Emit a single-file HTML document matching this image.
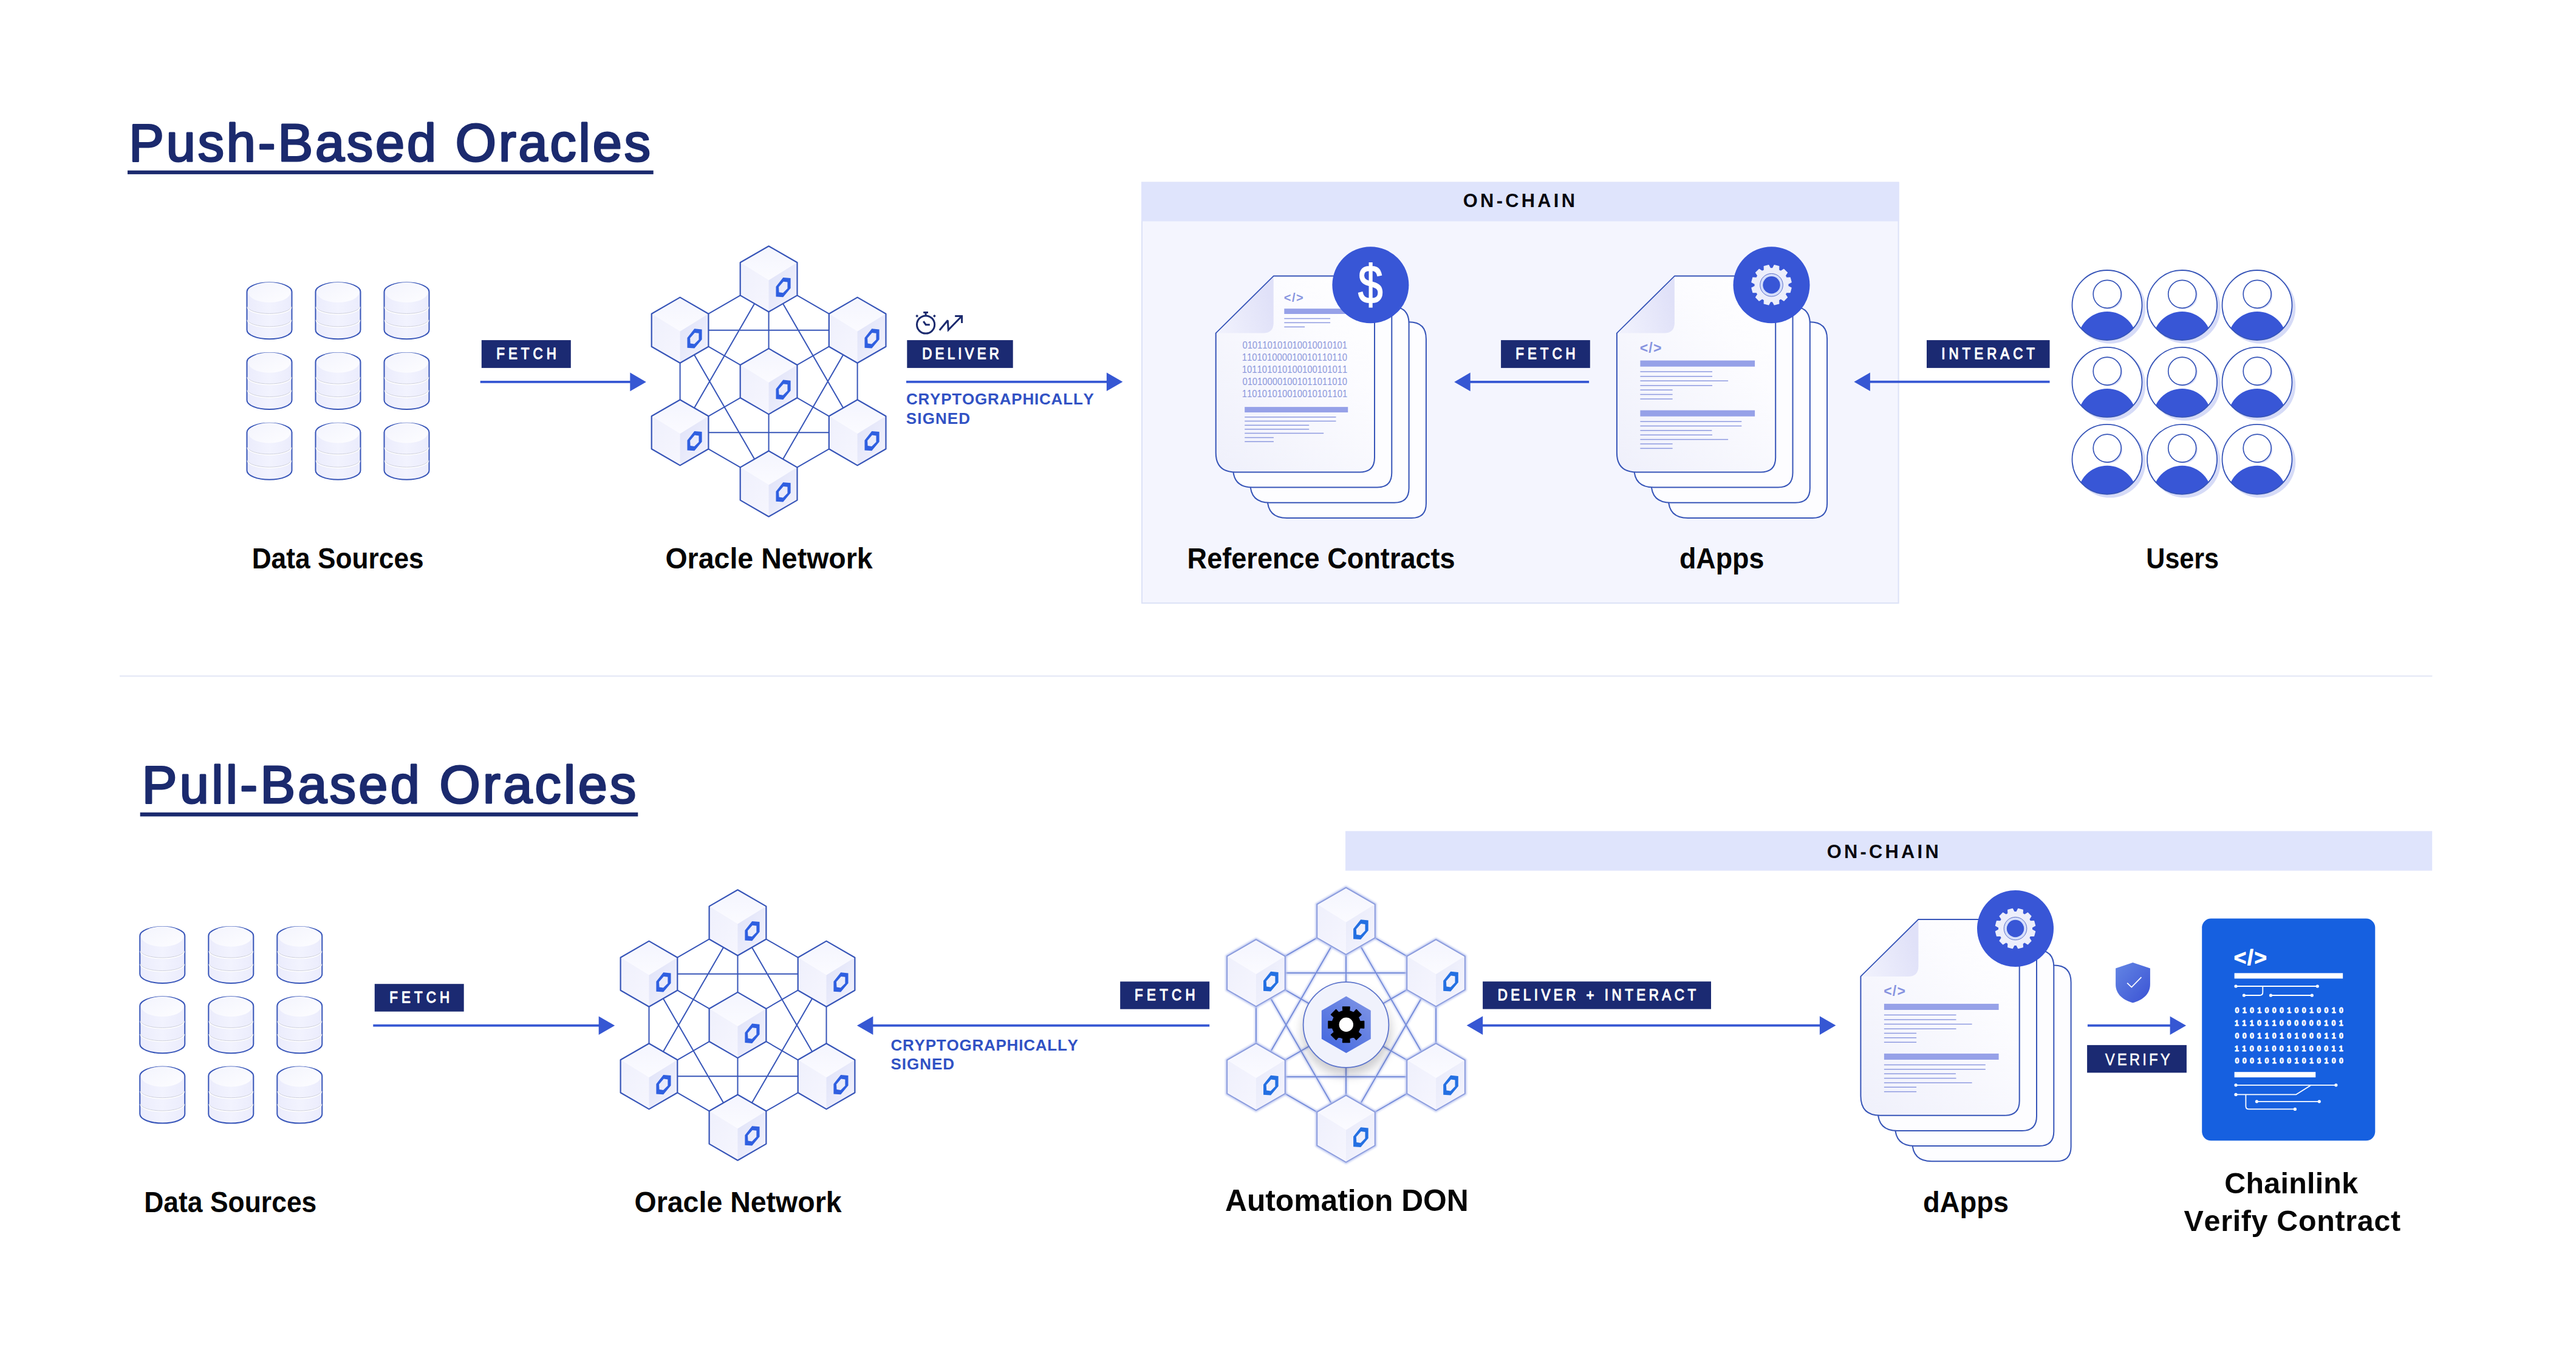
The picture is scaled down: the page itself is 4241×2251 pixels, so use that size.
<!DOCTYPE html>
<html lang="en">
<head>
<meta charset="utf-8">
<title>Push-Based vs Pull-Based Oracles</title>
<style>
html,body{margin:0;padding:0;background:#ffffff;}
body{width:4241px;height:2251px;overflow:hidden;font-family:'Liberation Sans', sans-serif;}
svg{display:block;}
text{white-space:pre;font-kerning:none;}
</style>
</head>
<body>
<svg width="4241" height="2251" viewBox="0 0 4241 2251">
<defs>

<linearGradient id="gCylBody" x1="0" y1="0" x2="1" y2="0">
  <stop offset="0" stop-color="#ebecfc"/><stop offset="0.5" stop-color="#f2f3fe"/><stop offset="1" stop-color="#ebecfc"/>
</linearGradient>
<linearGradient id="gCylTop" x1="0" y1="0" x2="1" y2="1">
  <stop offset="0" stop-color="#f3f4fd"/><stop offset="1" stop-color="#fdfdff"/>
</linearGradient>
<linearGradient id="gHexTop" x1="0" y1="0" x2="0" y2="1">
  <stop offset="0" stop-color="#f4f5fe"/><stop offset="1" stop-color="#fbfbff"/>
</linearGradient>
<linearGradient id="gHexLeft" x1="0" y1="0" x2="1" y2="1">
  <stop offset="0" stop-color="#eff0fc"/><stop offset="1" stop-color="#f6f6fe"/>
</linearGradient>
<linearGradient id="gHexRightL" x1="0" y1="0" x2="1" y2="1">
  <stop offset="0" stop-color="#e8eafa"/><stop offset="1" stop-color="#f5f5fd"/>
</linearGradient>
<linearGradient id="gHexRight" x1="0" y1="0" x2="1" y2="1">
  <stop offset="0" stop-color="#dfe2f8"/><stop offset="1" stop-color="#f3f3fd"/>
</linearGradient>
<linearGradient id="gDoc" x1="0" y1="1" x2="1" y2="0">
  <stop offset="0" stop-color="#eff0fb"/><stop offset="0.7" stop-color="#fcfcff"/><stop offset="1" stop-color="#ffffff"/>
</linearGradient>
<linearGradient id="gFold" x1="1" y1="0.6" x2="0" y2="0.9">
  <stop offset="0" stop-color="#e0e1f8"/><stop offset="1" stop-color="#f1f2fd"/>
</linearGradient>
<linearGradient id="gShield" x1="0" y1="0" x2="1" y2="1">
  <stop offset="0" stop-color="#6486e4"/><stop offset="1" stop-color="#3a52d4"/>
</linearGradient>
<linearGradient id="gNut" x1="1" y1="0" x2="0.2" y2="1">
  <stop offset="0" stop-color="#8297e6"/><stop offset="1" stop-color="#4569df"/>
</linearGradient>
<filter id="fShadow" x="-50%" y="-50%" width="200%" height="200%">
  <feGaussianBlur stdDeviation="9"/>
</filter>
<filter id="fGlow" x="-20%" y="-20%" width="140%" height="140%">
  <feGaussianBlur stdDeviation="1.6"/>
</filter>
<clipPath id="uc3469_502"><circle cx="3469.0" cy="502.5" r="57.5"/></clipPath><clipPath id="uc3592_502"><circle cx="3592.5" cy="502.5" r="57.5"/></clipPath><clipPath id="uc3716_502"><circle cx="3716.0" cy="502.5" r="57.5"/></clipPath><clipPath id="uc3469_629"><circle cx="3469.0" cy="629.4" r="57.5"/></clipPath><clipPath id="uc3592_629"><circle cx="3592.5" cy="629.4" r="57.5"/></clipPath><clipPath id="uc3716_629"><circle cx="3716.0" cy="629.4" r="57.5"/></clipPath><clipPath id="uc3469_756"><circle cx="3469.0" cy="756.3" r="57.5"/></clipPath><clipPath id="uc3592_756"><circle cx="3592.5" cy="756.3" r="57.5"/></clipPath><clipPath id="uc3716_756"><circle cx="3716.0" cy="756.3" r="57.5"/></clipPath>
</defs>
<rect x="0" y="0" width="4241" height="2251" fill="#ffffff"/>
<text x="212.31" y="265.2" font-family="'Liberation Sans', sans-serif" font-size="86.4" font-weight="normal" fill="#1b2a6e" letter-spacing="3.897" stroke="#1b2a6e" stroke-width="3.0" stroke-linejoin="round" >Push-Based Oracles</text>
<rect x="210" y="280.7" width="865.7" height="6.2" fill="#1b2a6e"/>
<rect x="1880" y="300.5" width="1245.6" height="692.6" fill="#f4f5fe" stroke="#dce2f7" stroke-width="2"/>
<rect x="1879" y="299.8" width="1247.6" height="64.6" fill="#dfe4fc"/>
<text x="2408.84" y="340.9" font-family="'Liberation Sans', sans-serif" font-size="30.8" font-weight="bold" fill="#07070f" letter-spacing="4.308" >ON-CHAIN</text>
<path d="M406.5,480.3 A37.0,15 0 0 1 480.5,480.3 L480.5,543.3 A37.0,15 0 0 1 406.5,543.3 Z" fill="url(#gCylBody)" stroke="#3755b8" stroke-width="2.0"/>
<ellipse cx="443.5" cy="481.5" rx="34.8" ry="16.6" fill="url(#gCylTop)"/>
<path d="M407.7,505.6 A35.8,11.6 0 0 0 479.3,505.6" fill="none" stroke="#ffffff" stroke-width="2.4"/>
<path d="M407.7,504.8 A35.8,11.6 0 0 0 479.3,504.8" fill="none" stroke="#c6c8d8" stroke-width="0.9"/>
<path d="M407.7,527.0 A35.8,11.6 0 0 0 479.3,527.0" fill="none" stroke="#ffffff" stroke-width="2.4"/>
<path d="M407.7,526.2 A35.8,11.6 0 0 0 479.3,526.2" fill="none" stroke="#c6c8d8" stroke-width="0.9"/>
<path d="M519.5,480.3 A37.0,15 0 0 1 593.5,480.3 L593.5,543.3 A37.0,15 0 0 1 519.5,543.3 Z" fill="url(#gCylBody)" stroke="#3755b8" stroke-width="2.0"/>
<ellipse cx="556.5" cy="481.5" rx="34.8" ry="16.6" fill="url(#gCylTop)"/>
<path d="M520.7,505.6 A35.8,11.6 0 0 0 592.3,505.6" fill="none" stroke="#ffffff" stroke-width="2.4"/>
<path d="M520.7,504.8 A35.8,11.6 0 0 0 592.3,504.8" fill="none" stroke="#c6c8d8" stroke-width="0.9"/>
<path d="M520.7,527.0 A35.8,11.6 0 0 0 592.3,527.0" fill="none" stroke="#ffffff" stroke-width="2.4"/>
<path d="M520.7,526.2 A35.8,11.6 0 0 0 592.3,526.2" fill="none" stroke="#c6c8d8" stroke-width="0.9"/>
<path d="M632.5,480.3 A37.0,15 0 0 1 706.5,480.3 L706.5,543.3 A37.0,15 0 0 1 632.5,543.3 Z" fill="url(#gCylBody)" stroke="#3755b8" stroke-width="2.0"/>
<ellipse cx="669.5" cy="481.5" rx="34.8" ry="16.6" fill="url(#gCylTop)"/>
<path d="M633.7,505.6 A35.8,11.6 0 0 0 705.3,505.6" fill="none" stroke="#ffffff" stroke-width="2.4"/>
<path d="M633.7,504.8 A35.8,11.6 0 0 0 705.3,504.8" fill="none" stroke="#c6c8d8" stroke-width="0.9"/>
<path d="M633.7,527.0 A35.8,11.6 0 0 0 705.3,527.0" fill="none" stroke="#ffffff" stroke-width="2.4"/>
<path d="M633.7,526.2 A35.8,11.6 0 0 0 705.3,526.2" fill="none" stroke="#c6c8d8" stroke-width="0.9"/>
<path d="M406.5,596.0 A37.0,15 0 0 1 480.5,596.0 L480.5,659.0 A37.0,15 0 0 1 406.5,659.0 Z" fill="url(#gCylBody)" stroke="#3755b8" stroke-width="2.0"/>
<ellipse cx="443.5" cy="597.2" rx="34.8" ry="16.6" fill="url(#gCylTop)"/>
<path d="M407.7,621.3 A35.8,11.6 0 0 0 479.3,621.3" fill="none" stroke="#ffffff" stroke-width="2.4"/>
<path d="M407.7,620.5 A35.8,11.6 0 0 0 479.3,620.5" fill="none" stroke="#c6c8d8" stroke-width="0.9"/>
<path d="M407.7,642.7 A35.8,11.6 0 0 0 479.3,642.7" fill="none" stroke="#ffffff" stroke-width="2.4"/>
<path d="M407.7,641.9 A35.8,11.6 0 0 0 479.3,641.9" fill="none" stroke="#c6c8d8" stroke-width="0.9"/>
<path d="M519.5,596.0 A37.0,15 0 0 1 593.5,596.0 L593.5,659.0 A37.0,15 0 0 1 519.5,659.0 Z" fill="url(#gCylBody)" stroke="#3755b8" stroke-width="2.0"/>
<ellipse cx="556.5" cy="597.2" rx="34.8" ry="16.6" fill="url(#gCylTop)"/>
<path d="M520.7,621.3 A35.8,11.6 0 0 0 592.3,621.3" fill="none" stroke="#ffffff" stroke-width="2.4"/>
<path d="M520.7,620.5 A35.8,11.6 0 0 0 592.3,620.5" fill="none" stroke="#c6c8d8" stroke-width="0.9"/>
<path d="M520.7,642.7 A35.8,11.6 0 0 0 592.3,642.7" fill="none" stroke="#ffffff" stroke-width="2.4"/>
<path d="M520.7,641.9 A35.8,11.6 0 0 0 592.3,641.9" fill="none" stroke="#c6c8d8" stroke-width="0.9"/>
<path d="M632.5,596.0 A37.0,15 0 0 1 706.5,596.0 L706.5,659.0 A37.0,15 0 0 1 632.5,659.0 Z" fill="url(#gCylBody)" stroke="#3755b8" stroke-width="2.0"/>
<ellipse cx="669.5" cy="597.2" rx="34.8" ry="16.6" fill="url(#gCylTop)"/>
<path d="M633.7,621.3 A35.8,11.6 0 0 0 705.3,621.3" fill="none" stroke="#ffffff" stroke-width="2.4"/>
<path d="M633.7,620.5 A35.8,11.6 0 0 0 705.3,620.5" fill="none" stroke="#c6c8d8" stroke-width="0.9"/>
<path d="M633.7,642.7 A35.8,11.6 0 0 0 705.3,642.7" fill="none" stroke="#ffffff" stroke-width="2.4"/>
<path d="M633.7,641.9 A35.8,11.6 0 0 0 705.3,641.9" fill="none" stroke="#c6c8d8" stroke-width="0.9"/>
<path d="M406.5,711.7 A37.0,15 0 0 1 480.5,711.7 L480.5,774.7 A37.0,15 0 0 1 406.5,774.7 Z" fill="url(#gCylBody)" stroke="#3755b8" stroke-width="2.0"/>
<ellipse cx="443.5" cy="712.9" rx="34.8" ry="16.6" fill="url(#gCylTop)"/>
<path d="M407.7,737.0 A35.8,11.6 0 0 0 479.3,737.0" fill="none" stroke="#ffffff" stroke-width="2.4"/>
<path d="M407.7,736.2 A35.8,11.6 0 0 0 479.3,736.2" fill="none" stroke="#c6c8d8" stroke-width="0.9"/>
<path d="M407.7,758.4 A35.8,11.6 0 0 0 479.3,758.4" fill="none" stroke="#ffffff" stroke-width="2.4"/>
<path d="M407.7,757.6 A35.8,11.6 0 0 0 479.3,757.6" fill="none" stroke="#c6c8d8" stroke-width="0.9"/>
<path d="M519.5,711.7 A37.0,15 0 0 1 593.5,711.7 L593.5,774.7 A37.0,15 0 0 1 519.5,774.7 Z" fill="url(#gCylBody)" stroke="#3755b8" stroke-width="2.0"/>
<ellipse cx="556.5" cy="712.9" rx="34.8" ry="16.6" fill="url(#gCylTop)"/>
<path d="M520.7,737.0 A35.8,11.6 0 0 0 592.3,737.0" fill="none" stroke="#ffffff" stroke-width="2.4"/>
<path d="M520.7,736.2 A35.8,11.6 0 0 0 592.3,736.2" fill="none" stroke="#c6c8d8" stroke-width="0.9"/>
<path d="M520.7,758.4 A35.8,11.6 0 0 0 592.3,758.4" fill="none" stroke="#ffffff" stroke-width="2.4"/>
<path d="M520.7,757.6 A35.8,11.6 0 0 0 592.3,757.6" fill="none" stroke="#c6c8d8" stroke-width="0.9"/>
<path d="M632.5,711.7 A37.0,15 0 0 1 706.5,711.7 L706.5,774.7 A37.0,15 0 0 1 632.5,774.7 Z" fill="url(#gCylBody)" stroke="#3755b8" stroke-width="2.0"/>
<ellipse cx="669.5" cy="712.9" rx="34.8" ry="16.6" fill="url(#gCylTop)"/>
<path d="M633.7,737.0 A35.8,11.6 0 0 0 705.3,737.0" fill="none" stroke="#ffffff" stroke-width="2.4"/>
<path d="M633.7,736.2 A35.8,11.6 0 0 0 705.3,736.2" fill="none" stroke="#c6c8d8" stroke-width="0.9"/>
<path d="M633.7,758.4 A35.8,11.6 0 0 0 705.3,758.4" fill="none" stroke="#ffffff" stroke-width="2.4"/>
<path d="M633.7,757.6 A35.8,11.6 0 0 0 705.3,757.6" fill="none" stroke="#c6c8d8" stroke-width="0.9"/>
<rect x="792.8" y="560.1" width="147.0" height="45.8" fill="#1b2a72"/>
<text transform="translate(817.19,590.9) scale(0.8600,1)" font-family="'Liberation Sans', sans-serif" font-size="26" font-weight="normal" fill="#ffffff" letter-spacing="7.029" stroke="#ffffff" stroke-width="1.25" stroke-linejoin="round" >FETCH</text>
<polygon points="1063.8,628.9 1037.3,613.6 1037.3,644.2" fill="#3657d3"/>
<rect x="790.7" y="627.0" width="247.6" height="3.8" fill="#3657d3"/>
<path d="M1265.6,459.4 L1411.6,543.7 M1265.6,459.4 L1411.6,712.3 M1265.6,459.4 L1265.6,796.6 M1265.6,459.4 L1119.6,712.3 M1265.6,459.4 L1119.6,543.7 M1411.6,543.7 L1411.6,712.3 M1411.6,543.7 L1265.6,796.6 M1411.6,543.7 L1119.6,712.3 M1411.6,543.7 L1119.6,543.7 M1411.6,712.3 L1265.6,796.6 M1411.6,712.3 L1119.6,712.3 M1411.6,712.3 L1119.6,543.7 M1265.6,796.6 L1119.6,712.3 M1265.6,796.6 L1119.6,543.7 M1119.6,712.3 L1119.6,543.7" fill="none" stroke="#3755b8" stroke-width="2.0"/>
<polygon points="1265.6,405.3 1312.5,432.3 1312.5,486.4 1265.6,513.5 1218.7,486.4 1218.7,432.3" fill="#f2f3fd"/>
<polygon points="1265.6,405.3 1312.5,432.3 1265.6,461.4 1218.7,432.3" fill="url(#gHexTop)"/>
<polygon points="1218.7,432.3 1265.6,461.4 1265.6,513.5 1218.7,486.4" fill="url(#gHexLeft)"/>
<polygon points="1265.6,461.4 1312.5,432.3 1312.5,486.4 1265.6,513.5" fill="url(#gHexRight)"/>
<polygon points="1265.6,405.3 1312.5,432.3 1312.5,486.4 1265.6,513.5 1218.7,486.4 1218.7,432.3" fill="none" stroke="#3755b8" stroke-width="2.2" stroke-linejoin="round"/>
<path d="M1289.3,457.0 L1301.6,458.1 L1301.6,474.6 L1289.3,489.3 L1277.5,488.5 L1277.5,472.0 Z M1289.8,463.7 L1296.5,464.5 L1296.5,474.9 L1289.1,482.2 L1282.6,481.2 L1282.1,472.5 Z" fill="#2f5fe0" fill-rule="evenodd"/>
<polygon points="1411.6,489.6 1458.5,516.7 1458.5,570.8 1411.6,597.8 1364.8,570.8 1364.8,516.7" fill="#f2f3fd"/>
<polygon points="1411.6,489.6 1458.5,516.7 1411.6,545.7 1364.8,516.7" fill="url(#gHexTop)"/>
<polygon points="1364.8,516.7 1411.6,545.7 1411.6,597.8 1364.8,570.8" fill="url(#gHexLeft)"/>
<polygon points="1411.6,545.7 1458.5,516.7 1458.5,570.8 1411.6,597.8" fill="url(#gHexRight)"/>
<polygon points="1411.6,489.6 1458.5,516.7 1458.5,570.8 1411.6,597.8 1364.8,570.8 1364.8,516.7" fill="none" stroke="#3755b8" stroke-width="2.2" stroke-linejoin="round"/>
<path d="M1435.3,541.3 L1447.6,542.4 L1447.6,558.9 L1435.3,573.6 L1423.5,572.8 L1423.5,556.3 Z M1435.8,548.0 L1442.5,548.8 L1442.5,559.2 L1435.1,566.5 L1428.6,565.5 L1428.1,556.8 Z" fill="#2f5fe0" fill-rule="evenodd"/>
<polygon points="1411.6,658.2 1458.5,685.2 1458.5,739.3 1411.6,766.4 1364.8,739.3 1364.8,685.2" fill="#f2f3fd"/>
<polygon points="1411.6,658.2 1458.5,685.2 1411.6,714.3 1364.8,685.2" fill="url(#gHexTop)"/>
<polygon points="1364.8,685.2 1411.6,714.3 1411.6,766.4 1364.8,739.3" fill="url(#gHexLeft)"/>
<polygon points="1411.6,714.3 1458.5,685.2 1458.5,739.3 1411.6,766.4" fill="url(#gHexRight)"/>
<polygon points="1411.6,658.2 1458.5,685.2 1458.5,739.3 1411.6,766.4 1364.8,739.3 1364.8,685.2" fill="none" stroke="#3755b8" stroke-width="2.2" stroke-linejoin="round"/>
<path d="M1435.3,709.9 L1447.6,711.0 L1447.6,727.5 L1435.3,742.2 L1423.5,741.4 L1423.5,724.9 Z M1435.8,716.6 L1442.5,717.4 L1442.5,727.8 L1435.1,735.1 L1428.6,734.1 L1428.1,725.4 Z" fill="#2f5fe0" fill-rule="evenodd"/>
<polygon points="1265.6,742.5 1312.5,769.6 1312.5,823.6 1265.6,850.7 1218.7,823.6 1218.7,769.6" fill="#f2f3fd"/>
<polygon points="1265.6,742.5 1312.5,769.6 1265.6,798.6 1218.7,769.6" fill="url(#gHexTop)"/>
<polygon points="1218.7,769.6 1265.6,798.6 1265.6,850.7 1218.7,823.6" fill="url(#gHexLeft)"/>
<polygon points="1265.6,798.6 1312.5,769.6 1312.5,823.6 1265.6,850.7" fill="url(#gHexRight)"/>
<polygon points="1265.6,742.5 1312.5,769.6 1312.5,823.6 1265.6,850.7 1218.7,823.6 1218.7,769.6" fill="none" stroke="#3755b8" stroke-width="2.2" stroke-linejoin="round"/>
<path d="M1289.3,794.2 L1301.6,795.3 L1301.6,811.8 L1289.3,826.5 L1277.5,825.7 L1277.5,809.2 Z M1289.8,800.9 L1296.5,801.7 L1296.5,812.1 L1289.1,819.4 L1282.6,818.4 L1282.1,809.7 Z" fill="#2f5fe0" fill-rule="evenodd"/>
<polygon points="1119.6,658.2 1166.4,685.2 1166.4,739.3 1119.6,766.4 1072.7,739.3 1072.7,685.2" fill="#f2f3fd"/>
<polygon points="1119.6,658.2 1166.4,685.2 1119.6,714.3 1072.7,685.2" fill="url(#gHexTop)"/>
<polygon points="1072.7,685.2 1119.6,714.3 1119.6,766.4 1072.7,739.3" fill="url(#gHexLeft)"/>
<polygon points="1119.6,714.3 1166.4,685.2 1166.4,739.3 1119.6,766.4" fill="url(#gHexRight)"/>
<polygon points="1119.6,658.2 1166.4,685.2 1166.4,739.3 1119.6,766.4 1072.7,739.3 1072.7,685.2" fill="none" stroke="#3755b8" stroke-width="2.2" stroke-linejoin="round"/>
<path d="M1143.3,709.9 L1155.6,711.0 L1155.6,727.5 L1143.3,742.2 L1131.5,741.4 L1131.5,724.9 Z M1143.8,716.6 L1150.5,717.4 L1150.5,727.8 L1143.1,735.1 L1136.6,734.1 L1136.1,725.4 Z" fill="#2f5fe0" fill-rule="evenodd"/>
<polygon points="1119.6,489.6 1166.4,516.7 1166.4,570.8 1119.6,597.8 1072.7,570.8 1072.7,516.7" fill="#f2f3fd"/>
<polygon points="1119.6,489.6 1166.4,516.7 1119.6,545.7 1072.7,516.7" fill="url(#gHexTop)"/>
<polygon points="1072.7,516.7 1119.6,545.7 1119.6,597.8 1072.7,570.8" fill="url(#gHexLeft)"/>
<polygon points="1119.6,545.7 1166.4,516.7 1166.4,570.8 1119.6,597.8" fill="url(#gHexRight)"/>
<polygon points="1119.6,489.6 1166.4,516.7 1166.4,570.8 1119.6,597.8 1072.7,570.8 1072.7,516.7" fill="none" stroke="#3755b8" stroke-width="2.2" stroke-linejoin="round"/>
<path d="M1143.3,541.3 L1155.6,542.4 L1155.6,558.9 L1143.3,573.6 L1131.5,572.8 L1131.5,556.3 Z M1143.8,548.0 L1150.5,548.8 L1150.5,559.2 L1143.1,566.5 L1136.6,565.5 L1136.1,556.8 Z" fill="#2f5fe0" fill-rule="evenodd"/>
<polygon points="1265.6,573.9 1312.5,601.0 1312.5,655.0 1265.6,682.1 1218.7,655.0 1218.7,601.0" fill="#f2f3fd"/>
<polygon points="1265.6,573.9 1312.5,601.0 1265.6,630.0 1218.7,601.0" fill="url(#gHexTop)"/>
<polygon points="1218.7,601.0 1265.6,630.0 1265.6,682.1 1218.7,655.0" fill="url(#gHexLeft)"/>
<polygon points="1265.6,630.0 1312.5,601.0 1312.5,655.0 1265.6,682.1" fill="url(#gHexRight)"/>
<polygon points="1265.6,573.9 1312.5,601.0 1312.5,655.0 1265.6,682.1 1218.7,655.0 1218.7,601.0" fill="none" stroke="#3755b8" stroke-width="2.2" stroke-linejoin="round"/>
<path d="M1289.3,625.6 L1301.6,626.7 L1301.6,643.2 L1289.3,657.9 L1277.5,657.1 L1277.5,640.6 Z M1289.8,632.3 L1296.5,633.1 L1296.5,643.5 L1289.1,650.8 L1282.6,649.8 L1282.1,641.1 Z" fill="#2f5fe0" fill-rule="evenodd"/>
<g fill="none" stroke="#1b2a6e" stroke-width="3" stroke-miterlimit="2.5"><circle cx="1524.1" cy="534.5" r="14.6"/><path d="M1520.2,514.6 L1528,514.6 M1524.1,515 L1524.1,520"/><path d="M1520.3,529.1 L1524.2,534.7 L1530.8,534.7"/><path d="M1546.8,543.8 L1560.3,527.5 L1561.3,543.3 L1583.0,521.0"/><path d="M1572.2,520.4 L1583.6,520.4 L1583.6,531.9"/></g>
<path d="M1509.7,517.9 L1512.1,520.3 L1509.7,522.7 L1507.3,520.3 Z M1538.4,517.9 L1540.8,520.3 L1538.4,522.7 L1536,520.3 Z" fill="#1b2a6e"/>
<rect x="1493.3" y="560.1" width="174.4" height="45.8" fill="#1b2a72"/>
<text transform="translate(1518.29,590.9) scale(0.8600,1)" font-family="'Liberation Sans', sans-serif" font-size="26" font-weight="normal" fill="#ffffff" letter-spacing="5.995" stroke="#ffffff" stroke-width="1.25" stroke-linejoin="round" >DELIVER</text>
<polygon points="1848.4,628.8 1821.9,613.5 1821.9,644.1" fill="#3657d3"/>
<rect x="1492.0" y="626.9" width="330.9" height="3.8" fill="#3657d3"/>
<text x="1491.93" y="665.5" font-family="'Liberation Sans', sans-serif" font-size="26" font-weight="bold" fill="#3152c4" letter-spacing="0.804" >CRYPTOGRAPHICALLY</text>
<text x="1491.85" y="697.8" font-family="'Liberation Sans', sans-serif" font-size="26" font-weight="bold" fill="#3152c4" letter-spacing="1.111" >SIGNED</text>
<path d="M2181.6,530.2 L2319.9,530.2 Q2347.9,530.2 2347.9,558.2 L2347.9,829.0 Q2347.9,853.0 2323.9,853.0 L2118.6,853.0 Q2086.6,853.0 2086.6,821.0 L2086.6,624.2 Z" fill="#fdfdff" stroke="#3755b8" stroke-width="2.0" stroke-linejoin="round"/>
<path d="M2153.3,505.0 L2291.6,505.0 Q2319.6,505.0 2319.6,533.0 L2319.6,803.8 Q2319.6,827.8 2295.6,827.8 L2090.3,827.8 Q2058.3,827.8 2058.3,795.8 L2058.3,599.0 Z" fill="#fdfdff" stroke="#3755b8" stroke-width="2.0" stroke-linejoin="round"/>
<path d="M2125.0,479.8 L2263.3,479.8 Q2291.3,479.8 2291.3,507.8 L2291.3,778.6 Q2291.3,802.6 2267.3,802.6 L2062.0,802.6 Q2030.0,802.6 2030.0,770.6 L2030.0,573.8 Z" fill="#fdfdff" stroke="#3755b8" stroke-width="2.0" stroke-linejoin="round"/>
<path d="M2096.7,454.6 L2253.0,454.6 Q2263.0,454.6 2263.0,464.6 L2263.0,753.4 Q2263.0,777.4 2239.0,777.4 L2033.7,777.4 Q2001.7,777.4 2001.7,745.4 L2001.7,548.6 Z" fill="url(#gDoc)" stroke="#3755b8" stroke-width="2.0" stroke-linejoin="round"/>
<path d="M2096.7,456.1 L2096.7,531.6 Q2096.7,548.6 2079.7,548.6 L2003.2,548.6 Z" fill="url(#gFold)"/>
<text x="2113.76" y="496.7" font-family="'Liberation Sans', sans-serif" font-size="20" font-weight="bold" fill="#8794e0" letter-spacing="1.567" >&lt;/&gt;</text>
<rect x="2114.3" y="508.2" width="110" height="8.8" fill="#96a1e8"/>
<rect x="2114.3" y="523.8" width="75.8" height="1.5" fill="#8e9ae0"/>
<rect x="2114.3" y="530.6" width="75.8" height="1.5" fill="#8e9ae0"/>
<rect x="2114.3" y="537.6" width="33.8" height="1.5" fill="#8e9ae0"/>
<text transform="translate(2045.42,573.7) scale(0.9484,1)" font-family="'Liberation Sans', sans-serif" font-size="15.6" font-weight="normal" fill="#8c98dc" >010110101010010010101</text>
<text transform="translate(2044.87,593.8) scale(0.9507,1)" font-family="'Liberation Sans', sans-serif" font-size="15.6" font-weight="normal" fill="#8c98dc" >110101000010010110110</text>
<text transform="translate(2044.87,613.9) scale(0.9515,1)" font-family="'Liberation Sans', sans-serif" font-size="15.6" font-weight="normal" fill="#8c98dc" >101101010100100101011</text>
<text transform="translate(2045.42,634.0) scale(0.9476,1)" font-family="'Liberation Sans', sans-serif" font-size="15.6" font-weight="normal" fill="#8c98dc" >010100001001011011010</text>
<text transform="translate(2044.87,654.1) scale(0.9515,1)" font-family="'Liberation Sans', sans-serif" font-size="15.6" font-weight="normal" fill="#8c98dc" >110101010010010101101</text>
<rect x="2049.2" y="670.1" width="170" height="9" fill="#96a1e8"/>
<rect x="2049.2" y="686.0" width="150.3" height="1.5" fill="#8e9ae0"/>
<rect x="2049.2" y="692.7" width="150.3" height="1.5" fill="#8e9ae0"/>
<rect x="2049.2" y="699.5" width="106.0" height="1.5" fill="#8e9ae0"/>
<rect x="2049.2" y="706.0" width="106.0" height="1.5" fill="#8e9ae0"/>
<rect x="2049.2" y="712.7" width="130.0" height="1.5" fill="#8e9ae0"/>
<rect x="2049.2" y="719.8" width="47.7" height="1.5" fill="#8e9ae0"/>
<rect x="2049.2" y="726.5" width="47.7" height="1.5" fill="#8e9ae0"/>
<circle cx="2256.4" cy="469.3" r="63" fill="#3856d6"/>
<text transform="translate(2236.02,498.9) scale(0.823,1)" font-family="'Liberation Sans', sans-serif" font-size="88.6" fill="#ffffff" stroke="#ffffff" stroke-width="2">$</text>
<rect x="2471.1" y="560.1" width="146.7" height="45.8" fill="#1b2a72"/>
<text transform="translate(2495.29,590.9) scale(0.8600,1)" font-family="'Liberation Sans', sans-serif" font-size="26" font-weight="normal" fill="#ffffff" letter-spacing="6.942" stroke="#ffffff" stroke-width="1.25" stroke-linejoin="round" >FETCH</text>
<polygon points="2394.2,628.9 2420.7,613.6 2420.7,644.2" fill="#3657d3"/>
<rect x="2419.7" y="627.0" width="196.4" height="3.8" fill="#3657d3"/>
<path d="M2841.8,530.2 L2980.1,530.2 Q3008.1,530.2 3008.1,558.2 L3008.1,829.0 Q3008.1,853.0 2984.1,853.0 L2778.8,853.0 Q2746.8,853.0 2746.8,821.0 L2746.8,624.2 Z" fill="#fdfdff" stroke="#3755b8" stroke-width="2.0" stroke-linejoin="round"/>
<path d="M2813.5,505.0 L2951.8,505.0 Q2979.8,505.0 2979.8,533.0 L2979.8,803.8 Q2979.8,827.8 2955.8,827.8 L2750.5,827.8 Q2718.5,827.8 2718.5,795.8 L2718.5,599.0 Z" fill="#fdfdff" stroke="#3755b8" stroke-width="2.0" stroke-linejoin="round"/>
<path d="M2785.2,479.8 L2923.5,479.8 Q2951.5,479.8 2951.5,507.8 L2951.5,778.6 Q2951.5,802.6 2927.5,802.6 L2722.2,802.6 Q2690.2,802.6 2690.2,770.6 L2690.2,573.8 Z" fill="#fdfdff" stroke="#3755b8" stroke-width="2.0" stroke-linejoin="round"/>
<path d="M2756.9,454.6 L2913.2,454.6 Q2923.2,454.6 2923.2,464.6 L2923.2,753.4 Q2923.2,777.4 2899.2,777.4 L2693.9,777.4 Q2661.9,777.4 2661.9,745.4 L2661.9,548.6 Z" fill="url(#gDoc)" stroke="#3755b8" stroke-width="2.0" stroke-linejoin="round"/>
<path d="M2756.9,456.1 L2756.9,531.6 Q2756.9,548.6 2739.9,548.6 L2663.4,548.6 Z" fill="url(#gFold)"/>
<text x="2699.73" y="580.7" font-family="'Liberation Sans', sans-serif" font-size="23" font-weight="bold" fill="#8794e0" letter-spacing="1.222" >&lt;/&gt;</text>
<rect x="2700.4" y="593.6" width="188.7" height="10.1" fill="#96a1e8"/>
<rect x="2700.4" y="611.3" width="118.6" height="1.5" fill="#8e9ae0"/>
<rect x="2700.4" y="619.0" width="118.6" height="1.5" fill="#8e9ae0"/>
<rect x="2700.4" y="626.4" width="144.7" height="1.5" fill="#8e9ae0"/>
<rect x="2700.4" y="634.1" width="118.6" height="1.5" fill="#8e9ae0"/>
<rect x="2700.4" y="641.4" width="53.2" height="1.5" fill="#8e9ae0"/>
<rect x="2700.4" y="648.8" width="53.2" height="1.5" fill="#8e9ae0"/>
<rect x="2700.4" y="656.2" width="53.2" height="1.5" fill="#8e9ae0"/>
<rect x="2700.4" y="675.6" width="188.7" height="10.1" fill="#96a1e8"/>
<rect x="2700.4" y="693.4" width="166.9" height="1.5" fill="#8e9ae0"/>
<rect x="2700.4" y="700.7" width="166.9" height="1.5" fill="#8e9ae0"/>
<rect x="2700.4" y="708.1" width="118.0" height="1.5" fill="#8e9ae0"/>
<rect x="2700.4" y="715.5" width="118.6" height="1.5" fill="#8e9ae0"/>
<rect x="2700.4" y="722.9" width="144.7" height="1.5" fill="#8e9ae0"/>
<rect x="2700.4" y="730.2" width="53.2" height="1.5" fill="#8e9ae0"/>
<rect x="2700.4" y="737.6" width="53.2" height="1.5" fill="#8e9ae0"/>
<circle cx="2916.5" cy="469.3" r="63" fill="#3856d6"/>
<path d="M2918.36,441.96 L2921.16,436.63 L2928.80,438.68 L2928.55,444.69 L2931.78,446.56 L2936.87,443.34 L2942.46,448.93 L2939.24,454.02 L2941.11,457.25 L2947.12,457.00 L2949.17,464.64 L2943.84,467.44 L2943.84,471.16 L2949.17,473.96 L2947.12,481.60 L2941.11,481.35 L2939.24,484.58 L2942.46,489.67 L2936.87,495.26 L2931.78,492.04 L2928.55,493.91 L2928.80,499.92 L2921.16,501.97 L2918.36,496.64 L2914.64,496.64 L2911.84,501.97 L2904.20,499.92 L2904.45,493.91 L2901.22,492.04 L2896.13,495.26 L2890.54,489.67 L2893.76,484.58 L2891.89,481.35 L2885.88,481.60 L2883.83,473.96 L2889.16,471.16 L2889.16,467.44 L2883.83,464.64 L2885.88,457.00 L2891.89,457.25 L2893.76,454.02 L2890.54,448.93 L2896.13,443.34 L2901.22,446.56 L2904.45,444.69 L2904.20,438.68 L2911.84,436.63 L2914.64,441.96 Z" fill="#eceefb" stroke="#eceefb" stroke-width="1.2" stroke-linejoin="round"/>
<circle cx="2916.5" cy="469.3" r="18.8" fill="#d5defb" stroke="#3a52b8" stroke-width="0.8"/>
<circle cx="2916.5" cy="469.3" r="14.2" fill="#3856d6"/>
<rect x="3172.0" y="560.1" width="202.5" height="45.8" fill="#1b2a72"/>
<text transform="translate(3196.16,590.9) scale(0.8600,1)" font-family="'Liberation Sans', sans-serif" font-size="26" font-weight="normal" fill="#ffffff" letter-spacing="6.998" stroke="#ffffff" stroke-width="1.25" stroke-linejoin="round" >INTERACT</text>
<polygon points="3052.4,628.7 3078.9,613.4 3078.9,644.0" fill="#3657d3"/>
<rect x="3077.9" y="626.8" width="296.6" height="3.8" fill="#3657d3"/>
<circle cx="3474.0" cy="507.5" r="58.3" fill="#d6dbf7"/>
<circle cx="3469.0" cy="502.5" r="57.5" fill="#ffffff"/>
<circle cx="3469.2" cy="561.4" r="48.4" fill="#3856d6" clip-path="url(#uc3469_502)"/>
<circle cx="3471.4" cy="486.1" r="23" fill="#d6dbf7"/>
<circle cx="3469.2" cy="484.3" r="23" fill="#ffffff" stroke="#3755b8" stroke-width="1.7"/>
<circle cx="3469.0" cy="502.5" r="57.5" fill="none" stroke="#3755b8" stroke-width="1.8"/>
<circle cx="3597.5" cy="507.5" r="58.3" fill="#d6dbf7"/>
<circle cx="3592.5" cy="502.5" r="57.5" fill="#ffffff"/>
<circle cx="3592.7" cy="561.4" r="48.4" fill="#3856d6" clip-path="url(#uc3592_502)"/>
<circle cx="3594.9" cy="486.1" r="23" fill="#d6dbf7"/>
<circle cx="3592.7" cy="484.3" r="23" fill="#ffffff" stroke="#3755b8" stroke-width="1.7"/>
<circle cx="3592.5" cy="502.5" r="57.5" fill="none" stroke="#3755b8" stroke-width="1.8"/>
<circle cx="3721.0" cy="507.5" r="58.3" fill="#d6dbf7"/>
<circle cx="3716.0" cy="502.5" r="57.5" fill="#ffffff"/>
<circle cx="3716.2" cy="561.4" r="48.4" fill="#3856d6" clip-path="url(#uc3716_502)"/>
<circle cx="3718.4" cy="486.1" r="23" fill="#d6dbf7"/>
<circle cx="3716.2" cy="484.3" r="23" fill="#ffffff" stroke="#3755b8" stroke-width="1.7"/>
<circle cx="3716.0" cy="502.5" r="57.5" fill="none" stroke="#3755b8" stroke-width="1.8"/>
<circle cx="3474.0" cy="634.4" r="58.3" fill="#d6dbf7"/>
<circle cx="3469.0" cy="629.4" r="57.5" fill="#ffffff"/>
<circle cx="3469.2" cy="688.3" r="48.4" fill="#3856d6" clip-path="url(#uc3469_629)"/>
<circle cx="3471.4" cy="613.0" r="23" fill="#d6dbf7"/>
<circle cx="3469.2" cy="611.2" r="23" fill="#ffffff" stroke="#3755b8" stroke-width="1.7"/>
<circle cx="3469.0" cy="629.4" r="57.5" fill="none" stroke="#3755b8" stroke-width="1.8"/>
<circle cx="3597.5" cy="634.4" r="58.3" fill="#d6dbf7"/>
<circle cx="3592.5" cy="629.4" r="57.5" fill="#ffffff"/>
<circle cx="3592.7" cy="688.3" r="48.4" fill="#3856d6" clip-path="url(#uc3592_629)"/>
<circle cx="3594.9" cy="613.0" r="23" fill="#d6dbf7"/>
<circle cx="3592.7" cy="611.2" r="23" fill="#ffffff" stroke="#3755b8" stroke-width="1.7"/>
<circle cx="3592.5" cy="629.4" r="57.5" fill="none" stroke="#3755b8" stroke-width="1.8"/>
<circle cx="3721.0" cy="634.4" r="58.3" fill="#d6dbf7"/>
<circle cx="3716.0" cy="629.4" r="57.5" fill="#ffffff"/>
<circle cx="3716.2" cy="688.3" r="48.4" fill="#3856d6" clip-path="url(#uc3716_629)"/>
<circle cx="3718.4" cy="613.0" r="23" fill="#d6dbf7"/>
<circle cx="3716.2" cy="611.2" r="23" fill="#ffffff" stroke="#3755b8" stroke-width="1.7"/>
<circle cx="3716.0" cy="629.4" r="57.5" fill="none" stroke="#3755b8" stroke-width="1.8"/>
<circle cx="3474.0" cy="761.3" r="58.3" fill="#d6dbf7"/>
<circle cx="3469.0" cy="756.3" r="57.5" fill="#ffffff"/>
<circle cx="3469.2" cy="815.2" r="48.4" fill="#3856d6" clip-path="url(#uc3469_756)"/>
<circle cx="3471.4" cy="739.9" r="23" fill="#d6dbf7"/>
<circle cx="3469.2" cy="738.1" r="23" fill="#ffffff" stroke="#3755b8" stroke-width="1.7"/>
<circle cx="3469.0" cy="756.3" r="57.5" fill="none" stroke="#3755b8" stroke-width="1.8"/>
<circle cx="3597.5" cy="761.3" r="58.3" fill="#d6dbf7"/>
<circle cx="3592.5" cy="756.3" r="57.5" fill="#ffffff"/>
<circle cx="3592.7" cy="815.2" r="48.4" fill="#3856d6" clip-path="url(#uc3592_756)"/>
<circle cx="3594.9" cy="739.9" r="23" fill="#d6dbf7"/>
<circle cx="3592.7" cy="738.1" r="23" fill="#ffffff" stroke="#3755b8" stroke-width="1.7"/>
<circle cx="3592.5" cy="756.3" r="57.5" fill="none" stroke="#3755b8" stroke-width="1.8"/>
<circle cx="3721.0" cy="761.3" r="58.3" fill="#d6dbf7"/>
<circle cx="3716.0" cy="756.3" r="57.5" fill="#ffffff"/>
<circle cx="3716.2" cy="815.2" r="48.4" fill="#3856d6" clip-path="url(#uc3716_756)"/>
<circle cx="3718.4" cy="739.9" r="23" fill="#d6dbf7"/>
<circle cx="3716.2" cy="738.1" r="23" fill="#ffffff" stroke="#3755b8" stroke-width="1.7"/>
<circle cx="3716.0" cy="756.3" r="57.5" fill="none" stroke="#3755b8" stroke-width="1.8"/>
<text transform="translate(414.64,935.5) scale(0.9230,1)" font-family="'Liberation Sans', sans-serif" font-size="48" font-weight="bold" fill="#050505" >Data Sources</text>
<text transform="translate(1095.39,935.5) scale(0.9694,1)" font-family="'Liberation Sans', sans-serif" font-size="48" font-weight="bold" fill="#050505" >Oracle Network</text>
<text transform="translate(1954.58,935.5) scale(0.9399,1)" font-family="'Liberation Sans', sans-serif" font-size="48" font-weight="bold" fill="#050505" >Reference Contracts</text>
<text transform="translate(2764.96,935.5) scale(0.9341,1)" font-family="'Liberation Sans', sans-serif" font-size="48" font-weight="bold" fill="#050505" >dApps</text>
<text transform="translate(3533.31,935.5) scale(0.8975,1)" font-family="'Liberation Sans', sans-serif" font-size="48" font-weight="bold" fill="#050505" >Users</text>
<rect x="197" y="1112.3" width="3807.4" height="2" fill="#e2e6f5"/>
<text x="233.81" y="1321.8" font-family="'Liberation Sans', sans-serif" font-size="86.4" font-weight="normal" fill="#1b2a6e" letter-spacing="4.353" stroke="#1b2a6e" stroke-width="3.0" stroke-linejoin="round" >Pull-Based Oracles</text>
<rect x="230.7" y="1337.8" width="819.6" height="6.6" fill="#1b2a6e"/>
<rect x="2215" y="1368.5" width="1789.2" height="65.2" fill="#dfe4fc"/>
<text x="3007.74" y="1413.0" font-family="'Liberation Sans', sans-serif" font-size="30.8" font-weight="bold" fill="#07070f" letter-spacing="4.279" >ON-CHAIN</text>
<path d="M230.3,1541.0 A37.0,15 0 0 1 304.3,1541.0 L304.3,1604.0 A37.0,15 0 0 1 230.3,1604.0 Z" fill="url(#gCylBody)" stroke="#3755b8" stroke-width="2.0"/>
<ellipse cx="267.3" cy="1542.2" rx="34.8" ry="16.6" fill="url(#gCylTop)"/>
<path d="M231.5,1566.3 A35.8,11.6 0 0 0 303.1,1566.3" fill="none" stroke="#ffffff" stroke-width="2.4"/>
<path d="M231.5,1565.5 A35.8,11.6 0 0 0 303.1,1565.5" fill="none" stroke="#c6c8d8" stroke-width="0.9"/>
<path d="M231.5,1587.7 A35.8,11.6 0 0 0 303.1,1587.7" fill="none" stroke="#ffffff" stroke-width="2.4"/>
<path d="M231.5,1586.9 A35.8,11.6 0 0 0 303.1,1586.9" fill="none" stroke="#c6c8d8" stroke-width="0.9"/>
<path d="M343.3,1541.0 A37.0,15 0 0 1 417.3,1541.0 L417.3,1604.0 A37.0,15 0 0 1 343.3,1604.0 Z" fill="url(#gCylBody)" stroke="#3755b8" stroke-width="2.0"/>
<ellipse cx="380.3" cy="1542.2" rx="34.8" ry="16.6" fill="url(#gCylTop)"/>
<path d="M344.5,1566.3 A35.8,11.6 0 0 0 416.1,1566.3" fill="none" stroke="#ffffff" stroke-width="2.4"/>
<path d="M344.5,1565.5 A35.8,11.6 0 0 0 416.1,1565.5" fill="none" stroke="#c6c8d8" stroke-width="0.9"/>
<path d="M344.5,1587.7 A35.8,11.6 0 0 0 416.1,1587.7" fill="none" stroke="#ffffff" stroke-width="2.4"/>
<path d="M344.5,1586.9 A35.8,11.6 0 0 0 416.1,1586.9" fill="none" stroke="#c6c8d8" stroke-width="0.9"/>
<path d="M456.3,1541.0 A37.0,15 0 0 1 530.3,1541.0 L530.3,1604.0 A37.0,15 0 0 1 456.3,1604.0 Z" fill="url(#gCylBody)" stroke="#3755b8" stroke-width="2.0"/>
<ellipse cx="493.3" cy="1542.2" rx="34.8" ry="16.6" fill="url(#gCylTop)"/>
<path d="M457.5,1566.3 A35.8,11.6 0 0 0 529.1,1566.3" fill="none" stroke="#ffffff" stroke-width="2.4"/>
<path d="M457.5,1565.5 A35.8,11.6 0 0 0 529.1,1565.5" fill="none" stroke="#c6c8d8" stroke-width="0.9"/>
<path d="M457.5,1587.7 A35.8,11.6 0 0 0 529.1,1587.7" fill="none" stroke="#ffffff" stroke-width="2.4"/>
<path d="M457.5,1586.9 A35.8,11.6 0 0 0 529.1,1586.9" fill="none" stroke="#c6c8d8" stroke-width="0.9"/>
<path d="M230.3,1656.3 A37.0,15 0 0 1 304.3,1656.3 L304.3,1719.3 A37.0,15 0 0 1 230.3,1719.3 Z" fill="url(#gCylBody)" stroke="#3755b8" stroke-width="2.0"/>
<ellipse cx="267.3" cy="1657.5" rx="34.8" ry="16.6" fill="url(#gCylTop)"/>
<path d="M231.5,1681.6 A35.8,11.6 0 0 0 303.1,1681.6" fill="none" stroke="#ffffff" stroke-width="2.4"/>
<path d="M231.5,1680.8 A35.8,11.6 0 0 0 303.1,1680.8" fill="none" stroke="#c6c8d8" stroke-width="0.9"/>
<path d="M231.5,1703.0 A35.8,11.6 0 0 0 303.1,1703.0" fill="none" stroke="#ffffff" stroke-width="2.4"/>
<path d="M231.5,1702.2 A35.8,11.6 0 0 0 303.1,1702.2" fill="none" stroke="#c6c8d8" stroke-width="0.9"/>
<path d="M343.3,1656.3 A37.0,15 0 0 1 417.3,1656.3 L417.3,1719.3 A37.0,15 0 0 1 343.3,1719.3 Z" fill="url(#gCylBody)" stroke="#3755b8" stroke-width="2.0"/>
<ellipse cx="380.3" cy="1657.5" rx="34.8" ry="16.6" fill="url(#gCylTop)"/>
<path d="M344.5,1681.6 A35.8,11.6 0 0 0 416.1,1681.6" fill="none" stroke="#ffffff" stroke-width="2.4"/>
<path d="M344.5,1680.8 A35.8,11.6 0 0 0 416.1,1680.8" fill="none" stroke="#c6c8d8" stroke-width="0.9"/>
<path d="M344.5,1703.0 A35.8,11.6 0 0 0 416.1,1703.0" fill="none" stroke="#ffffff" stroke-width="2.4"/>
<path d="M344.5,1702.2 A35.8,11.6 0 0 0 416.1,1702.2" fill="none" stroke="#c6c8d8" stroke-width="0.9"/>
<path d="M456.3,1656.3 A37.0,15 0 0 1 530.3,1656.3 L530.3,1719.3 A37.0,15 0 0 1 456.3,1719.3 Z" fill="url(#gCylBody)" stroke="#3755b8" stroke-width="2.0"/>
<ellipse cx="493.3" cy="1657.5" rx="34.8" ry="16.6" fill="url(#gCylTop)"/>
<path d="M457.5,1681.6 A35.8,11.6 0 0 0 529.1,1681.6" fill="none" stroke="#ffffff" stroke-width="2.4"/>
<path d="M457.5,1680.8 A35.8,11.6 0 0 0 529.1,1680.8" fill="none" stroke="#c6c8d8" stroke-width="0.9"/>
<path d="M457.5,1703.0 A35.8,11.6 0 0 0 529.1,1703.0" fill="none" stroke="#ffffff" stroke-width="2.4"/>
<path d="M457.5,1702.2 A35.8,11.6 0 0 0 529.1,1702.2" fill="none" stroke="#c6c8d8" stroke-width="0.9"/>
<path d="M230.3,1771.6 A37.0,15 0 0 1 304.3,1771.6 L304.3,1834.6 A37.0,15 0 0 1 230.3,1834.6 Z" fill="url(#gCylBody)" stroke="#3755b8" stroke-width="2.0"/>
<ellipse cx="267.3" cy="1772.8" rx="34.8" ry="16.6" fill="url(#gCylTop)"/>
<path d="M231.5,1796.9 A35.8,11.6 0 0 0 303.1,1796.9" fill="none" stroke="#ffffff" stroke-width="2.4"/>
<path d="M231.5,1796.1 A35.8,11.6 0 0 0 303.1,1796.1" fill="none" stroke="#c6c8d8" stroke-width="0.9"/>
<path d="M231.5,1818.3 A35.8,11.6 0 0 0 303.1,1818.3" fill="none" stroke="#ffffff" stroke-width="2.4"/>
<path d="M231.5,1817.5 A35.8,11.6 0 0 0 303.1,1817.5" fill="none" stroke="#c6c8d8" stroke-width="0.9"/>
<path d="M343.3,1771.6 A37.0,15 0 0 1 417.3,1771.6 L417.3,1834.6 A37.0,15 0 0 1 343.3,1834.6 Z" fill="url(#gCylBody)" stroke="#3755b8" stroke-width="2.0"/>
<ellipse cx="380.3" cy="1772.8" rx="34.8" ry="16.6" fill="url(#gCylTop)"/>
<path d="M344.5,1796.9 A35.8,11.6 0 0 0 416.1,1796.9" fill="none" stroke="#ffffff" stroke-width="2.4"/>
<path d="M344.5,1796.1 A35.8,11.6 0 0 0 416.1,1796.1" fill="none" stroke="#c6c8d8" stroke-width="0.9"/>
<path d="M344.5,1818.3 A35.8,11.6 0 0 0 416.1,1818.3" fill="none" stroke="#ffffff" stroke-width="2.4"/>
<path d="M344.5,1817.5 A35.8,11.6 0 0 0 416.1,1817.5" fill="none" stroke="#c6c8d8" stroke-width="0.9"/>
<path d="M456.3,1771.6 A37.0,15 0 0 1 530.3,1771.6 L530.3,1834.6 A37.0,15 0 0 1 456.3,1834.6 Z" fill="url(#gCylBody)" stroke="#3755b8" stroke-width="2.0"/>
<ellipse cx="493.3" cy="1772.8" rx="34.8" ry="16.6" fill="url(#gCylTop)"/>
<path d="M457.5,1796.9 A35.8,11.6 0 0 0 529.1,1796.9" fill="none" stroke="#ffffff" stroke-width="2.4"/>
<path d="M457.5,1796.1 A35.8,11.6 0 0 0 529.1,1796.1" fill="none" stroke="#c6c8d8" stroke-width="0.9"/>
<path d="M457.5,1818.3 A35.8,11.6 0 0 0 529.1,1818.3" fill="none" stroke="#ffffff" stroke-width="2.4"/>
<path d="M457.5,1817.5 A35.8,11.6 0 0 0 529.1,1817.5" fill="none" stroke="#c6c8d8" stroke-width="0.9"/>
<rect x="616.8" y="1620.2" width="146.9" height="45.5" fill="#1b2a72"/>
<text transform="translate(641.19,1650.8) scale(0.8600,1)" font-family="'Liberation Sans', sans-serif" font-size="26" font-weight="normal" fill="#ffffff" letter-spacing="7.146" stroke="#ffffff" stroke-width="1.25" stroke-linejoin="round" >FETCH</text>
<polygon points="1012.2,1688.7 985.7,1673.4 985.7,1704.0" fill="#3657d3"/>
<rect x="614.3" y="1686.8" width="372.4" height="3.8" fill="#3657d3"/>
<path d="M1214.5,1519.4 L1360.5,1603.7 M1214.5,1519.4 L1360.5,1772.3 M1214.5,1519.4 L1214.5,1856.6 M1214.5,1519.4 L1068.5,1772.3 M1214.5,1519.4 L1068.5,1603.7 M1360.5,1603.7 L1360.5,1772.3 M1360.5,1603.7 L1214.5,1856.6 M1360.5,1603.7 L1068.5,1772.3 M1360.5,1603.7 L1068.5,1603.7 M1360.5,1772.3 L1214.5,1856.6 M1360.5,1772.3 L1068.5,1772.3 M1360.5,1772.3 L1068.5,1603.7 M1214.5,1856.6 L1068.5,1772.3 M1214.5,1856.6 L1068.5,1603.7 M1068.5,1772.3 L1068.5,1603.7" fill="none" stroke="#3755b8" stroke-width="2.0"/>
<polygon points="1214.5,1465.3 1261.4,1492.4 1261.4,1546.5 1214.5,1573.5 1167.6,1546.5 1167.6,1492.4" fill="#f2f3fd"/>
<polygon points="1214.5,1465.3 1261.4,1492.4 1214.5,1521.4 1167.6,1492.4" fill="url(#gHexTop)"/>
<polygon points="1167.6,1492.4 1214.5,1521.4 1214.5,1573.5 1167.6,1546.5" fill="url(#gHexLeft)"/>
<polygon points="1214.5,1521.4 1261.4,1492.4 1261.4,1546.5 1214.5,1573.5" fill="url(#gHexRight)"/>
<polygon points="1214.5,1465.3 1261.4,1492.4 1261.4,1546.5 1214.5,1573.5 1167.6,1546.5 1167.6,1492.4" fill="none" stroke="#3755b8" stroke-width="2.2" stroke-linejoin="round"/>
<path d="M1238.2,1517.0 L1250.5,1518.1 L1250.5,1534.6 L1238.2,1549.3 L1226.4,1548.5 L1226.4,1532.0 Z M1238.7,1523.7 L1245.4,1524.5 L1245.4,1534.9 L1238.0,1542.2 L1231.5,1541.2 L1231.0,1532.5 Z" fill="#2f5fe0" fill-rule="evenodd"/>
<polygon points="1360.5,1549.6 1407.4,1576.7 1407.4,1630.8 1360.5,1657.8 1313.7,1630.8 1313.7,1576.7" fill="#f2f3fd"/>
<polygon points="1360.5,1549.6 1407.4,1576.7 1360.5,1605.7 1313.7,1576.7" fill="url(#gHexTop)"/>
<polygon points="1313.7,1576.7 1360.5,1605.7 1360.5,1657.8 1313.7,1630.8" fill="url(#gHexLeft)"/>
<polygon points="1360.5,1605.7 1407.4,1576.7 1407.4,1630.8 1360.5,1657.8" fill="url(#gHexRight)"/>
<polygon points="1360.5,1549.6 1407.4,1576.7 1407.4,1630.8 1360.5,1657.8 1313.7,1630.8 1313.7,1576.7" fill="none" stroke="#3755b8" stroke-width="2.2" stroke-linejoin="round"/>
<path d="M1384.2,1601.3 L1396.5,1602.4 L1396.5,1618.9 L1384.2,1633.6 L1372.4,1632.8 L1372.4,1616.3 Z M1384.7,1608.0 L1391.4,1608.8 L1391.4,1619.2 L1384.0,1626.5 L1377.5,1625.5 L1377.0,1616.8 Z" fill="#2f5fe0" fill-rule="evenodd"/>
<polygon points="1360.5,1718.2 1407.4,1745.2 1407.4,1799.3 1360.5,1826.4 1313.7,1799.3 1313.7,1745.2" fill="#f2f3fd"/>
<polygon points="1360.5,1718.2 1407.4,1745.2 1360.5,1774.3 1313.7,1745.2" fill="url(#gHexTop)"/>
<polygon points="1313.7,1745.2 1360.5,1774.3 1360.5,1826.4 1313.7,1799.3" fill="url(#gHexLeft)"/>
<polygon points="1360.5,1774.3 1407.4,1745.2 1407.4,1799.3 1360.5,1826.4" fill="url(#gHexRight)"/>
<polygon points="1360.5,1718.2 1407.4,1745.2 1407.4,1799.3 1360.5,1826.4 1313.7,1799.3 1313.7,1745.2" fill="none" stroke="#3755b8" stroke-width="2.2" stroke-linejoin="round"/>
<path d="M1384.2,1769.9 L1396.5,1771.0 L1396.5,1787.5 L1384.2,1802.2 L1372.4,1801.4 L1372.4,1784.9 Z M1384.7,1776.6 L1391.4,1777.4 L1391.4,1787.8 L1384.0,1795.1 L1377.5,1794.1 L1377.0,1785.4 Z" fill="#2f5fe0" fill-rule="evenodd"/>
<polygon points="1214.5,1802.5 1261.4,1829.5 1261.4,1883.6 1214.5,1910.7 1167.6,1883.6 1167.6,1829.5" fill="#f2f3fd"/>
<polygon points="1214.5,1802.5 1261.4,1829.5 1214.5,1858.6 1167.6,1829.5" fill="url(#gHexTop)"/>
<polygon points="1167.6,1829.5 1214.5,1858.6 1214.5,1910.7 1167.6,1883.6" fill="url(#gHexLeft)"/>
<polygon points="1214.5,1858.6 1261.4,1829.5 1261.4,1883.6 1214.5,1910.7" fill="url(#gHexRight)"/>
<polygon points="1214.5,1802.5 1261.4,1829.5 1261.4,1883.6 1214.5,1910.7 1167.6,1883.6 1167.6,1829.5" fill="none" stroke="#3755b8" stroke-width="2.2" stroke-linejoin="round"/>
<path d="M1238.2,1854.2 L1250.5,1855.3 L1250.5,1871.8 L1238.2,1886.5 L1226.4,1885.7 L1226.4,1869.2 Z M1238.7,1860.9 L1245.4,1861.7 L1245.4,1872.1 L1238.0,1879.4 L1231.5,1878.4 L1231.0,1869.7 Z" fill="#2f5fe0" fill-rule="evenodd"/>
<polygon points="1068.5,1718.2 1115.3,1745.2 1115.3,1799.3 1068.5,1826.4 1021.6,1799.3 1021.6,1745.2" fill="#f2f3fd"/>
<polygon points="1068.5,1718.2 1115.3,1745.2 1068.5,1774.3 1021.6,1745.2" fill="url(#gHexTop)"/>
<polygon points="1021.6,1745.2 1068.5,1774.3 1068.5,1826.4 1021.6,1799.3" fill="url(#gHexLeft)"/>
<polygon points="1068.5,1774.3 1115.3,1745.2 1115.3,1799.3 1068.5,1826.4" fill="url(#gHexRight)"/>
<polygon points="1068.5,1718.2 1115.3,1745.2 1115.3,1799.3 1068.5,1826.4 1021.6,1799.3 1021.6,1745.2" fill="none" stroke="#3755b8" stroke-width="2.2" stroke-linejoin="round"/>
<path d="M1092.2,1769.9 L1104.5,1771.0 L1104.5,1787.5 L1092.2,1802.2 L1080.4,1801.4 L1080.4,1784.9 Z M1092.7,1776.6 L1099.4,1777.4 L1099.4,1787.8 L1092.0,1795.1 L1085.5,1794.1 L1085.0,1785.4 Z" fill="#2f5fe0" fill-rule="evenodd"/>
<polygon points="1068.5,1549.6 1115.3,1576.7 1115.3,1630.8 1068.5,1657.8 1021.6,1630.8 1021.6,1576.7" fill="#f2f3fd"/>
<polygon points="1068.5,1549.6 1115.3,1576.7 1068.5,1605.7 1021.6,1576.7" fill="url(#gHexTop)"/>
<polygon points="1021.6,1576.7 1068.5,1605.7 1068.5,1657.8 1021.6,1630.8" fill="url(#gHexLeft)"/>
<polygon points="1068.5,1605.7 1115.3,1576.7 1115.3,1630.8 1068.5,1657.8" fill="url(#gHexRight)"/>
<polygon points="1068.5,1549.6 1115.3,1576.7 1115.3,1630.8 1068.5,1657.8 1021.6,1630.8 1021.6,1576.7" fill="none" stroke="#3755b8" stroke-width="2.2" stroke-linejoin="round"/>
<path d="M1092.2,1601.3 L1104.5,1602.4 L1104.5,1618.9 L1092.2,1633.6 L1080.4,1632.8 L1080.4,1616.3 Z M1092.7,1608.0 L1099.4,1608.8 L1099.4,1619.2 L1092.0,1626.5 L1085.5,1625.5 L1085.0,1616.8 Z" fill="#2f5fe0" fill-rule="evenodd"/>
<polygon points="1214.5,1633.9 1261.4,1661.0 1261.4,1715.0 1214.5,1742.1 1167.6,1715.0 1167.6,1661.0" fill="#f2f3fd"/>
<polygon points="1214.5,1633.9 1261.4,1661.0 1214.5,1690.0 1167.6,1661.0" fill="url(#gHexTop)"/>
<polygon points="1167.6,1661.0 1214.5,1690.0 1214.5,1742.1 1167.6,1715.0" fill="url(#gHexLeft)"/>
<polygon points="1214.5,1690.0 1261.4,1661.0 1261.4,1715.0 1214.5,1742.1" fill="url(#gHexRight)"/>
<polygon points="1214.5,1633.9 1261.4,1661.0 1261.4,1715.0 1214.5,1742.1 1167.6,1715.0 1167.6,1661.0" fill="none" stroke="#3755b8" stroke-width="2.2" stroke-linejoin="round"/>
<path d="M1238.2,1685.6 L1250.5,1686.7 L1250.5,1703.2 L1238.2,1717.9 L1226.4,1717.1 L1226.4,1700.6 Z M1238.7,1692.3 L1245.4,1693.1 L1245.4,1703.5 L1238.0,1710.8 L1231.5,1709.8 L1231.0,1701.1 Z" fill="#2f5fe0" fill-rule="evenodd"/>
<polygon points="1410.9,1688.7 1437.4,1673.4 1437.4,1704.0" fill="#3657d3"/>
<rect x="1436.4" y="1686.8" width="554.8" height="3.8" fill="#3657d3"/>
<rect x="1844.2" y="1616.3" width="147.0" height="45.4" fill="#1b2a72"/>
<text transform="translate(1868.09,1646.8) scale(0.8600,1)" font-family="'Liberation Sans', sans-serif" font-size="26" font-weight="normal" fill="#ffffff" letter-spacing="7.291" stroke="#ffffff" stroke-width="1.25" stroke-linejoin="round" >FETCH</text>
<text x="1466.43" y="1730.4" font-family="'Liberation Sans', sans-serif" font-size="26" font-weight="bold" fill="#3152c4" letter-spacing="0.773" >CRYPTOGRAPHICALLY</text>
<text x="1466.45" y="1761.4" font-family="'Liberation Sans', sans-serif" font-size="26" font-weight="bold" fill="#3152c4" letter-spacing="0.991" >SIGNED</text>
<path d="M2216.0,1516.7 L2364.1,1602.2 M2216.0,1516.7 L2364.1,1773.2 M2216.0,1516.7 L2216.0,1858.7 M2216.0,1516.7 L2067.9,1773.2 M2216.0,1516.7 L2067.9,1602.2 M2364.1,1602.2 L2364.1,1773.2 M2364.1,1602.2 L2216.0,1858.7 M2364.1,1602.2 L2067.9,1773.2 M2364.1,1602.2 L2067.9,1602.2 M2364.1,1773.2 L2216.0,1858.7 M2364.1,1773.2 L2067.9,1773.2 M2364.1,1773.2 L2067.9,1602.2 M2216.0,1858.7 L2067.9,1773.2 M2216.0,1858.7 L2067.9,1602.2 M2067.9,1773.2 L2067.9,1602.2" fill="none" stroke="#c3ccf2" stroke-width="4.5" filter="url(#fGlow)"/>
<path d="M2216.0,1516.7 L2364.1,1602.2 M2216.0,1516.7 L2364.1,1773.2 M2216.0,1516.7 L2216.0,1858.7 M2216.0,1516.7 L2067.9,1773.2 M2216.0,1516.7 L2067.9,1602.2 M2364.1,1602.2 L2364.1,1773.2 M2364.1,1602.2 L2216.0,1858.7 M2364.1,1602.2 L2067.9,1773.2 M2364.1,1602.2 L2067.9,1602.2 M2364.1,1773.2 L2216.0,1858.7 M2364.1,1773.2 L2067.9,1773.2 M2364.1,1773.2 L2067.9,1602.2 M2216.0,1858.7 L2067.9,1773.2 M2216.0,1858.7 L2067.9,1602.2 M2067.9,1773.2 L2067.9,1602.2" fill="none" stroke="#7088d8" stroke-width="1.7"/>
<polygon points="2216.0,1461.6 2263.7,1489.1 2263.7,1544.3 2216.0,1571.8 2168.3,1544.3 2168.3,1489.1" fill="none" stroke="#b9c4f0" stroke-width="5" filter="url(#fGlow)"/>
<polygon points="2216.0,1461.6 2263.7,1489.1 2263.7,1544.3 2216.0,1571.8 2168.3,1544.3 2168.3,1489.1" fill="#f2f3fd"/>
<polygon points="2216.0,1461.6 2263.7,1489.1 2216.0,1518.8 2168.3,1489.1" fill="url(#gHexTop)"/>
<polygon points="2168.3,1489.1 2216.0,1518.8 2216.0,1571.8 2168.3,1544.3" fill="url(#gHexLeft)"/>
<polygon points="2216.0,1518.8 2263.7,1489.1 2263.7,1544.3 2216.0,1571.8" fill="url(#gHexRightL)"/>
<polygon points="2216.0,1461.6 2263.7,1489.1 2263.7,1544.3 2216.0,1571.8 2168.3,1544.3 2168.3,1489.1" fill="none" stroke="#8b9cdd" stroke-width="1.9" stroke-linejoin="round"/>
<path d="M2240.2,1514.2 L2252.7,1515.4 L2252.7,1532.2 L2240.2,1547.1 L2228.1,1546.3 L2228.1,1529.5 Z M2240.7,1521.1 L2247.5,1521.9 L2247.5,1532.5 L2240.0,1540.0 L2233.3,1538.9 L2232.8,1530.0 Z" fill="#2470e2" fill-rule="evenodd"/>
<polygon points="2364.1,1547.1 2411.8,1574.6 2411.8,1629.8 2364.1,1657.3 2316.3,1629.8 2316.3,1574.6" fill="none" stroke="#b9c4f0" stroke-width="5" filter="url(#fGlow)"/>
<polygon points="2364.1,1547.1 2411.8,1574.6 2411.8,1629.8 2364.1,1657.3 2316.3,1629.8 2316.3,1574.6" fill="#f2f3fd"/>
<polygon points="2364.1,1547.1 2411.8,1574.6 2364.1,1604.3 2316.3,1574.6" fill="url(#gHexTop)"/>
<polygon points="2316.3,1574.6 2364.1,1604.3 2364.1,1657.3 2316.3,1629.8" fill="url(#gHexLeft)"/>
<polygon points="2364.1,1604.3 2411.8,1574.6 2411.8,1629.8 2364.1,1657.3" fill="url(#gHexRightL)"/>
<polygon points="2364.1,1547.1 2411.8,1574.6 2411.8,1629.8 2364.1,1657.3 2316.3,1629.8 2316.3,1574.6" fill="none" stroke="#8b9cdd" stroke-width="1.9" stroke-linejoin="round"/>
<path d="M2388.3,1599.7 L2400.8,1600.9 L2400.8,1617.7 L2388.3,1632.6 L2376.2,1631.8 L2376.2,1615.0 Z M2388.8,1606.6 L2395.5,1607.4 L2395.5,1618.0 L2388.1,1625.5 L2381.4,1624.4 L2380.9,1615.5 Z" fill="#2470e2" fill-rule="evenodd"/>
<polygon points="2364.1,1718.1 2411.8,1745.6 2411.8,1800.8 2364.1,1828.3 2316.3,1800.8 2316.3,1745.6" fill="none" stroke="#b9c4f0" stroke-width="5" filter="url(#fGlow)"/>
<polygon points="2364.1,1718.1 2411.8,1745.6 2411.8,1800.8 2364.1,1828.3 2316.3,1800.8 2316.3,1745.6" fill="#f2f3fd"/>
<polygon points="2364.1,1718.1 2411.8,1745.6 2364.1,1775.2 2316.3,1745.6" fill="url(#gHexTop)"/>
<polygon points="2316.3,1745.6 2364.1,1775.2 2364.1,1828.3 2316.3,1800.8" fill="url(#gHexLeft)"/>
<polygon points="2364.1,1775.2 2411.8,1745.6 2411.8,1800.8 2364.1,1828.3" fill="url(#gHexRightL)"/>
<polygon points="2364.1,1718.1 2411.8,1745.6 2411.8,1800.8 2364.1,1828.3 2316.3,1800.8 2316.3,1745.6" fill="none" stroke="#8b9cdd" stroke-width="1.9" stroke-linejoin="round"/>
<path d="M2388.3,1770.7 L2400.8,1771.9 L2400.8,1788.7 L2388.3,1803.6 L2376.2,1802.8 L2376.2,1786.0 Z M2388.8,1777.6 L2395.5,1778.4 L2395.5,1789.0 L2388.1,1796.5 L2381.4,1795.4 L2380.9,1786.5 Z" fill="#2470e2" fill-rule="evenodd"/>
<polygon points="2216.0,1803.6 2263.7,1831.1 2263.7,1886.3 2216.0,1913.8 2168.3,1886.3 2168.3,1831.1" fill="none" stroke="#b9c4f0" stroke-width="5" filter="url(#fGlow)"/>
<polygon points="2216.0,1803.6 2263.7,1831.1 2263.7,1886.3 2216.0,1913.8 2168.3,1886.3 2168.3,1831.1" fill="#f2f3fd"/>
<polygon points="2216.0,1803.6 2263.7,1831.1 2216.0,1860.7 2168.3,1831.1" fill="url(#gHexTop)"/>
<polygon points="2168.3,1831.1 2216.0,1860.7 2216.0,1913.8 2168.3,1886.3" fill="url(#gHexLeft)"/>
<polygon points="2216.0,1860.7 2263.7,1831.1 2263.7,1886.3 2216.0,1913.8" fill="url(#gHexRightL)"/>
<polygon points="2216.0,1803.6 2263.7,1831.1 2263.7,1886.3 2216.0,1913.8 2168.3,1886.3 2168.3,1831.1" fill="none" stroke="#8b9cdd" stroke-width="1.9" stroke-linejoin="round"/>
<path d="M2240.2,1856.2 L2252.7,1857.4 L2252.7,1874.2 L2240.2,1889.1 L2228.1,1888.3 L2228.1,1871.5 Z M2240.7,1863.1 L2247.5,1863.9 L2247.5,1874.5 L2240.0,1882.0 L2233.3,1880.9 L2232.8,1872.0 Z" fill="#2470e2" fill-rule="evenodd"/>
<polygon points="2067.9,1718.1 2115.7,1745.6 2115.7,1800.8 2067.9,1828.3 2020.2,1800.8 2020.2,1745.6" fill="none" stroke="#b9c4f0" stroke-width="5" filter="url(#fGlow)"/>
<polygon points="2067.9,1718.1 2115.7,1745.6 2115.7,1800.8 2067.9,1828.3 2020.2,1800.8 2020.2,1745.6" fill="#f2f3fd"/>
<polygon points="2067.9,1718.1 2115.7,1745.6 2067.9,1775.2 2020.2,1745.6" fill="url(#gHexTop)"/>
<polygon points="2020.2,1745.6 2067.9,1775.2 2067.9,1828.3 2020.2,1800.8" fill="url(#gHexLeft)"/>
<polygon points="2067.9,1775.2 2115.7,1745.6 2115.7,1800.8 2067.9,1828.3" fill="url(#gHexRightL)"/>
<polygon points="2067.9,1718.1 2115.7,1745.6 2115.7,1800.8 2067.9,1828.3 2020.2,1800.8 2020.2,1745.6" fill="none" stroke="#8b9cdd" stroke-width="1.9" stroke-linejoin="round"/>
<path d="M2092.1,1770.7 L2104.6,1771.9 L2104.6,1788.7 L2092.1,1803.6 L2080.0,1802.8 L2080.0,1786.0 Z M2092.6,1777.6 L2099.4,1778.4 L2099.4,1789.0 L2091.9,1796.5 L2085.2,1795.4 L2084.7,1786.5 Z" fill="#2470e2" fill-rule="evenodd"/>
<polygon points="2067.9,1547.1 2115.7,1574.6 2115.7,1629.8 2067.9,1657.3 2020.2,1629.8 2020.2,1574.6" fill="none" stroke="#b9c4f0" stroke-width="5" filter="url(#fGlow)"/>
<polygon points="2067.9,1547.1 2115.7,1574.6 2115.7,1629.8 2067.9,1657.3 2020.2,1629.8 2020.2,1574.6" fill="#f2f3fd"/>
<polygon points="2067.9,1547.1 2115.7,1574.6 2067.9,1604.3 2020.2,1574.6" fill="url(#gHexTop)"/>
<polygon points="2020.2,1574.6 2067.9,1604.3 2067.9,1657.3 2020.2,1629.8" fill="url(#gHexLeft)"/>
<polygon points="2067.9,1604.3 2115.7,1574.6 2115.7,1629.8 2067.9,1657.3" fill="url(#gHexRightL)"/>
<polygon points="2067.9,1547.1 2115.7,1574.6 2115.7,1629.8 2067.9,1657.3 2020.2,1629.8 2020.2,1574.6" fill="none" stroke="#8b9cdd" stroke-width="1.9" stroke-linejoin="round"/>
<path d="M2092.1,1599.7 L2104.6,1600.9 L2104.6,1617.7 L2092.1,1632.6 L2080.0,1631.8 L2080.0,1615.0 Z M2092.6,1606.6 L2099.4,1607.4 L2099.4,1618.0 L2091.9,1625.5 L2085.2,1624.4 L2084.7,1615.5 Z" fill="#2470e2" fill-rule="evenodd"/>
<ellipse cx="2217" cy="1700" rx="72" ry="70" fill="#3a3a4a" opacity="0.28" filter="url(#fShadow)"/>
<circle cx="2216" cy="1687.5" r="70.4" fill="#f0f2fc" stroke="#5d75cc" stroke-width="1.8"/>
<polygon points="2216.3,1640.5 2256.8,1663.9 2256.8,1710.7 2216.3,1734.1 2175.8,1710.7 2175.8,1663.9" fill="url(#gNut)"/>
<path d="M2211.24,1664.66 L2210.74,1658.23 L2221.86,1658.23 L2221.36,1664.66 L2228.73,1667.71 L2232.92,1662.81 L2240.79,1670.68 L2235.89,1674.87 L2238.94,1682.24 L2245.37,1681.74 L2245.37,1692.86 L2238.94,1692.36 L2235.89,1699.73 L2240.79,1703.92 L2232.92,1711.79 L2228.73,1706.89 L2221.36,1709.94 L2221.86,1716.37 L2210.74,1716.37 L2211.24,1709.94 L2203.87,1706.89 L2199.68,1711.79 L2191.81,1703.92 L2196.71,1699.73 L2193.66,1692.36 L2187.23,1692.86 L2187.23,1681.74 L2193.66,1682.24 L2196.71,1674.87 L2191.81,1670.68 L2199.68,1662.81 L2203.87,1667.71 Z" fill="#000" stroke="#000" stroke-width="2" stroke-linejoin="round"/>
<circle cx="2216.3" cy="1687.3" r="11.7" fill="#ffffff"/>
<rect x="2441.1" y="1616.2" width="375.9" height="45.4" fill="#1b2a72"/>
<text transform="translate(2465.69,1647.0) scale(0.8600,1)" font-family="'Liberation Sans', sans-serif" font-size="26" font-weight="normal" fill="#ffffff" letter-spacing="6.397" stroke="#ffffff" stroke-width="1.25" stroke-linejoin="round" >DELIVER + INTERACT</text>
<polygon points="3022.4,1688.6 2995.9,1673.3 2995.9,1703.9" fill="#3657d3"/>
<polygon points="2414.7,1688.6 2441.2,1673.3 2441.2,1703.9" fill="#3657d3"/>
<rect x="2440.2" y="1686.7" width="556.7" height="3.8" fill="#3657d3"/>
<path d="M3243.3,1589.5 L3381.6,1589.5 Q3409.6,1589.5 3409.6,1617.5 L3409.6,1888.3 Q3409.6,1912.3 3385.6,1912.3 L3180.3,1912.3 Q3148.3,1912.3 3148.3,1880.3 L3148.3,1683.5 Z" fill="#fdfdff" stroke="#3755b8" stroke-width="2.0" stroke-linejoin="round"/>
<path d="M3215.0,1564.3 L3353.3,1564.3 Q3381.3,1564.3 3381.3,1592.3 L3381.3,1863.1 Q3381.3,1887.1 3357.3,1887.1 L3152.0,1887.1 Q3120.0,1887.1 3120.0,1855.1 L3120.0,1658.3 Z" fill="#fdfdff" stroke="#3755b8" stroke-width="2.0" stroke-linejoin="round"/>
<path d="M3186.7,1539.1 L3325.0,1539.1 Q3353.0,1539.1 3353.0,1567.1 L3353.0,1837.9 Q3353.0,1861.9 3329.0,1861.9 L3123.7,1861.9 Q3091.7,1861.9 3091.7,1829.9 L3091.7,1633.1 Z" fill="#fdfdff" stroke="#3755b8" stroke-width="2.0" stroke-linejoin="round"/>
<path d="M3158.4,1513.9 L3314.7,1513.9 Q3324.7,1513.9 3324.7,1523.9 L3324.7,1812.7 Q3324.7,1836.7 3300.7,1836.7 L3095.4,1836.7 Q3063.4,1836.7 3063.4,1804.7 L3063.4,1607.9 Z" fill="url(#gDoc)" stroke="#3755b8" stroke-width="2.0" stroke-linejoin="round"/>
<path d="M3158.4,1515.4 L3158.4,1590.9 Q3158.4,1607.9 3141.4,1607.9 L3064.9,1607.9 Z" fill="url(#gFold)"/>
<text x="3101.23" y="1640.0" font-family="'Liberation Sans', sans-serif" font-size="23" font-weight="bold" fill="#8794e0" letter-spacing="1.222" >&lt;/&gt;</text>
<rect x="3101.9" y="1652.9" width="188.7" height="10.1" fill="#96a1e8"/>
<rect x="3101.9" y="1670.6" width="118.6" height="1.5" fill="#8e9ae0"/>
<rect x="3101.9" y="1678.3" width="118.6" height="1.5" fill="#8e9ae0"/>
<rect x="3101.9" y="1685.7" width="144.7" height="1.5" fill="#8e9ae0"/>
<rect x="3101.9" y="1693.4" width="118.6" height="1.5" fill="#8e9ae0"/>
<rect x="3101.9" y="1700.7" width="53.2" height="1.5" fill="#8e9ae0"/>
<rect x="3101.9" y="1708.1" width="53.2" height="1.5" fill="#8e9ae0"/>
<rect x="3101.9" y="1715.5" width="53.2" height="1.5" fill="#8e9ae0"/>
<rect x="3101.9" y="1734.9" width="188.7" height="10.1" fill="#96a1e8"/>
<rect x="3101.9" y="1752.7" width="166.9" height="1.5" fill="#8e9ae0"/>
<rect x="3101.9" y="1760.0" width="166.9" height="1.5" fill="#8e9ae0"/>
<rect x="3101.9" y="1767.4" width="118.0" height="1.5" fill="#8e9ae0"/>
<rect x="3101.9" y="1774.8" width="118.6" height="1.5" fill="#8e9ae0"/>
<rect x="3101.9" y="1782.2" width="144.7" height="1.5" fill="#8e9ae0"/>
<rect x="3101.9" y="1789.5" width="53.2" height="1.5" fill="#8e9ae0"/>
<rect x="3101.9" y="1796.9" width="53.2" height="1.5" fill="#8e9ae0"/>
<circle cx="3318.0" cy="1529.0" r="63" fill="#3856d6"/>
<path d="M3319.86,1501.66 L3322.66,1496.33 L3330.30,1498.38 L3330.05,1504.39 L3333.28,1506.26 L3338.37,1503.04 L3343.96,1508.63 L3340.74,1513.72 L3342.61,1516.95 L3348.62,1516.70 L3350.67,1524.34 L3345.34,1527.14 L3345.34,1530.86 L3350.67,1533.66 L3348.62,1541.30 L3342.61,1541.05 L3340.74,1544.28 L3343.96,1549.37 L3338.37,1554.96 L3333.28,1551.74 L3330.05,1553.61 L3330.30,1559.62 L3322.66,1561.67 L3319.86,1556.34 L3316.14,1556.34 L3313.34,1561.67 L3305.70,1559.62 L3305.95,1553.61 L3302.72,1551.74 L3297.63,1554.96 L3292.04,1549.37 L3295.26,1544.28 L3293.39,1541.05 L3287.38,1541.30 L3285.33,1533.66 L3290.66,1530.86 L3290.66,1527.14 L3285.33,1524.34 L3287.38,1516.70 L3293.39,1516.95 L3295.26,1513.72 L3292.04,1508.63 L3297.63,1503.04 L3302.72,1506.26 L3305.95,1504.39 L3305.70,1498.38 L3313.34,1496.33 L3316.14,1501.66 Z" fill="#eceefb" stroke="#eceefb" stroke-width="1.2" stroke-linejoin="round"/>
<circle cx="3318.0" cy="1529.0" r="18.8" fill="#d5defb" stroke="#3a52b8" stroke-width="0.8"/>
<circle cx="3318.0" cy="1529.0" r="14.2" fill="#3856d6"/>
<path d="M3511.4,1584.9 L3539.9,1594.6 L3539.9,1621 C3539.9,1638 3526,1647.5 3511.4,1651.2 C3496.8,1647.5 3483.1,1638 3483.1,1621 L3483.1,1594.6 Z" fill="url(#gShield)"/>
<path d="M3502.1,1618.7 L3509.3,1625.6 L3525.4,1609.1" fill="none" stroke="#ffffff" stroke-width="1.8"/>
<polygon points="3599.1,1688.7 3572.6,1673.4 3572.6,1704.0" fill="#3657d3"/>
<rect x="3436.9" y="1686.8" width="136.7" height="3.8" fill="#3657d3"/>
<rect x="3436.1" y="1720.9" width="163.8" height="45.5" fill="#1b2a72"/>
<text transform="translate(3465.64,1753.6) scale(0.8600,1)" font-family="'Liberation Sans', sans-serif" font-size="28" font-weight="normal" fill="#ffffff" letter-spacing="4.689" stroke="#ffffff" stroke-width="0.5" stroke-linejoin="round" >VERIFY</text>
<rect x="3625.2" y="1512.5" width="285.1" height="365.8" rx="15" fill="#1660e0"/>
<text x="3677.63" y="1589.3" font-family="'Liberation Sans', sans-serif" font-size="35" font-weight="bold" fill="#ffffff" letter-spacing="1.843" stroke="#ffffff" stroke-width="1.0" stroke-linejoin="round" >&lt;/&gt;</text>
<rect x="3678.6" y="1602.4" width="178.6" height="9" fill="#ffffff"/>
<path d="M3681,1624 L3815.3,1624 M3725.3,1624 L3725.3,1634 Q3725.3,1639 3720.3,1639 L3694.4,1639 M3738.5,1639 L3806.3,1639" fill="none" stroke="#ffffff" stroke-width="1.8" stroke-linejoin="round"/>
<circle cx="3681" cy="1624" r="2.6" fill="#ffffff"/>
<circle cx="3815.3" cy="1624" r="2.6" fill="#ffffff"/>
<circle cx="3694.4" cy="1639" r="2.6" fill="#ffffff"/>
<circle cx="3738.5" cy="1639" r="2.6" fill="#ffffff"/>
<circle cx="3806.3" cy="1639" r="2.6" fill="#ffffff"/>
<text x="3679.41" y="1668.4" font-family="'Liberation Sans', sans-serif" font-size="12.4" font-weight="bold" fill="#ffffff" letter-spacing="5.361" stroke="#ffffff" stroke-width="0.8" stroke-linejoin="round" >010100010010010</text>
<text x="3679.12" y="1689.2" font-family="'Liberation Sans', sans-serif" font-size="12.4" font-weight="bold" fill="#ffffff" letter-spacing="5.370" stroke="#ffffff" stroke-width="0.8" stroke-linejoin="round" >111011000000101</text>
<text x="3679.41" y="1709.9" font-family="'Liberation Sans', sans-serif" font-size="12.4" font-weight="bold" fill="#ffffff" letter-spacing="5.361" stroke="#ffffff" stroke-width="0.8" stroke-linejoin="round" >000110101000110</text>
<text x="3679.12" y="1730.7" font-family="'Liberation Sans', sans-serif" font-size="12.4" font-weight="bold" fill="#ffffff" letter-spacing="5.370" stroke="#ffffff" stroke-width="0.8" stroke-linejoin="round" >110010010100011</text>
<text x="3679.41" y="1751.4" font-family="'Liberation Sans', sans-serif" font-size="12.4" font-weight="bold" fill="#ffffff" letter-spacing="5.361" stroke="#ffffff" stroke-width="0.8" stroke-linejoin="round" >000101001010100</text>
<rect x="3678.6" y="1765.2" width="133.7" height="8.9" fill="#ffffff"/>
<path d="M3681,1786.8 L3845.9,1786.8 M3681,1802.4 L3779.9,1802.4 L3803.9,1787.4 M3697.4,1802.4 L3697.4,1821.4 Q3697.4,1826.4 3702.4,1826.4 L3778.4,1826.4 M3715.4,1813.8 L3818.3,1813.8" fill="none" stroke="#ffffff" stroke-width="1.8" stroke-linejoin="round"/>
<circle cx="3681" cy="1786.8" r="2.6" fill="#ffffff"/>
<circle cx="3845.9" cy="1786.8" r="2.6" fill="#ffffff"/>
<circle cx="3681" cy="1802.4" r="2.6" fill="#ffffff"/>
<circle cx="3778.4" cy="1826.4" r="2.6" fill="#ffffff"/>
<circle cx="3715.4" cy="1813.8" r="2.6" fill="#ffffff"/>
<circle cx="3818.3" cy="1813.8" r="2.6" fill="#ffffff"/>
<text transform="translate(237.23,1995.9) scale(0.9263,1)" font-family="'Liberation Sans', sans-serif" font-size="48" font-weight="bold" fill="#050505" >Data Sources</text>
<text transform="translate(1044.49,1995.9) scale(0.9688,1)" font-family="'Liberation Sans', sans-serif" font-size="48" font-weight="bold" fill="#050505" >Oracle Network</text>
<text transform="translate(2016.96,1993.6) scale(0.9954,1)" font-family="'Liberation Sans', sans-serif" font-size="50" font-weight="bold" fill="#050505" >Automation DON</text>
<text transform="translate(3166.04,1995.9) scale(0.9444,1)" font-family="'Liberation Sans', sans-serif" font-size="48" font-weight="bold" fill="#050505" >dApps</text>
<text x="3662.31" y="1965.3" font-family="'Liberation Sans', sans-serif" font-size="48.4" font-weight="bold" fill="#050505" letter-spacing="0.252" >Chainlink</text>
<text x="3595.57" y="2026.5" font-family="'Liberation Sans', sans-serif" font-size="48.4" font-weight="bold" fill="#050505" letter-spacing="0.691" >Verify Contract</text>
</svg>
</body>
</html>
